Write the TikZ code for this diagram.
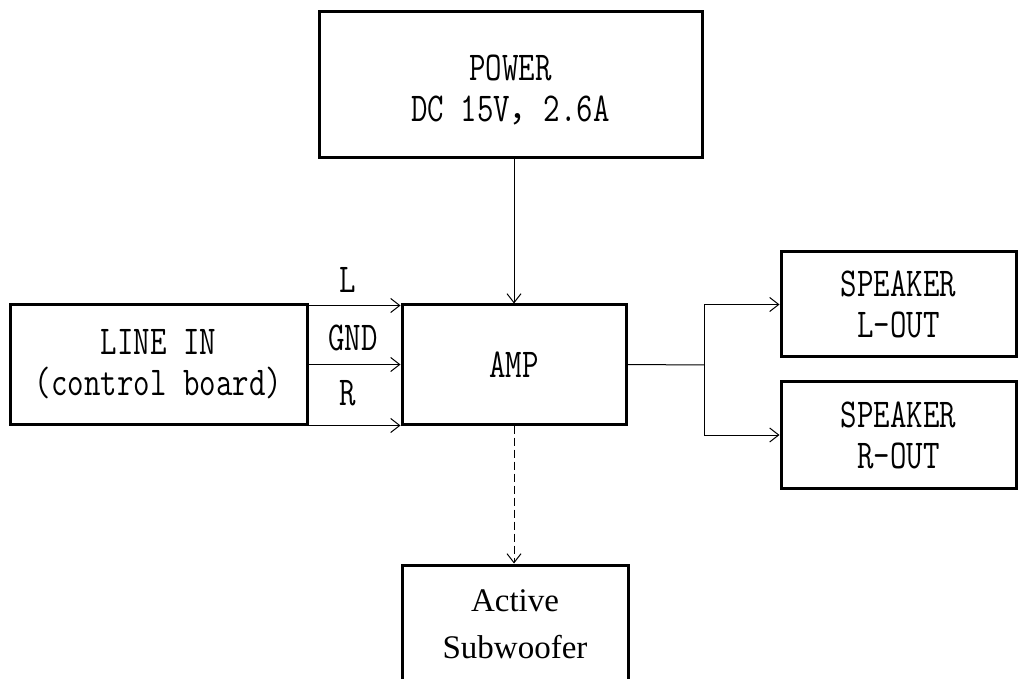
\documentclass[tikz,border=0pt]{standalone}
\usepackage{fontspec}
\setmainfont{Liberation Serif}
\newfontfamily\monofont[FakeStretch=0.78]{Latin Modern Mono}
\newfontfamily\cjkfont{Noto Sans CJK SC}
\usetikzlibrary{arrows.meta}
\tikzset{
  box/.style={draw, line width=1.5pt, rectangle, inner sep=0pt, align=center,
    font=\monofont\fontsize{20.5}{20.5}\selectfont},
  lbl/.style={inner sep=0pt, font=\monofont\fontsize{20.5}{20.5}\selectfont},
  conn/.style={line width=0.5pt, -{Straight Barb[length=4.5pt,width=7pt]}},
}
\begin{document}
\begin{tikzpicture}[x=0.5pt,y=-0.5pt]
\useasboundingbox (0,0) rectangle (1018,679);
\node[box, minimum width=191.5pt, minimum height=73pt] (power) at (510.5,85)
  {\raisebox{0pt}[\dimexpr\height+5pt]{POWER}\\DC 15V{\cjkfont\fontsize{17}{17}\selectfont ，}2.6A};
\node[box, minimum width=148.5pt, minimum height=59.5pt] (linein) at (158.5,364.5) {LINE IN\\(control board)};
\node[box, minimum width=112pt, minimum height=59.5pt] (amp) at (514,364.5) {AMP};
\node[box, minimum width=117.5pt, minimum height=52.5pt] (spkL) at (898.5,304.5) {SPEAKER\\L-OUT};
\node[box, minimum width=117.5pt, minimum height=53pt] (spkR) at (898.5,435) {SPEAKER\\R-OUT};
\node[box, minimum width=113pt, minimum height=59.5pt, font=\fontsize{16.5}{23.5}\selectfont] (sub) at (515,624.5) {Active\\Subwoofer};
\node[lbl] (lL) at (348,280) {L};
\node[lbl] (lG) at (353,338) {GND};
\node[lbl] (lR) at (348,393) {R};
\draw[conn] (power.south -| amp.north) -- (amp.north);
\draw[conn] ([yshift=-1pt]linein.north east) -- ([yshift=-1pt]linein.north east -| amp.west);
\draw[conn] (linein.east) -- (amp.west);
\draw[conn] (linein.south east) -- (linein.south east -| amp.west);
\coordinate (br) at (704,365);
\draw[line width=0.5pt] (amp.east) -- (br);
\draw[conn] (br) |- (spkL.west);
\draw[conn] (br) |- (spkR.west);
\draw[conn, dash pattern=on 4pt off 2pt] (amp.south) -- (amp.south |- sub.north);
\end{tikzpicture}
\end{document}
